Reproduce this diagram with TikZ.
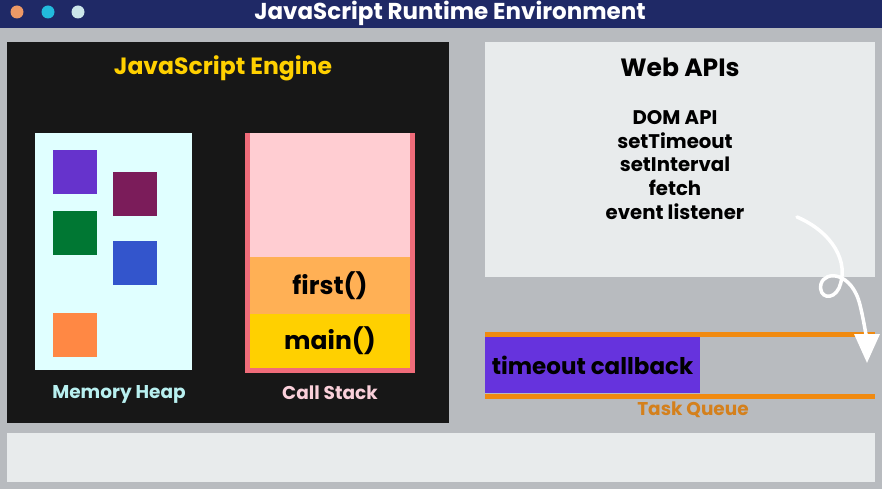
\documentclass[tikz,border=0pt]{standalone}
\usepackage{fontspec}
\setmainfont{Poppins}
\usetikzlibrary{arrows.meta,positioning}
\definecolor{bgGray}{HTML}{B8BBBF}
\definecolor{barNavy}{HTML}{1F2966}
\definecolor{engineBlack}{HTML}{171717}
\definecolor{engineYellow}{HTML}{FFD000}
\definecolor{heapCyan}{HTML}{E0FFFF}
\definecolor{heapText}{HTML}{B8F0F0}
\definecolor{sqPurple}{HTML}{6633CC}
\definecolor{sqMaroon}{HTML}{7B1C5A}
\definecolor{sqGreen}{HTML}{007733}
\definecolor{sqBlue}{HTML}{3355CC}
\definecolor{sqOrange}{HTML}{FF8844}
\definecolor{stackRed}{HTML}{F06C7A}
\definecolor{stackPink}{HTML}{FFCDD2}
\definecolor{stackText}{HTML}{FAD0DA}
\definecolor{firstOrange}{HTML}{FFB055}
\definecolor{panelLight}{HTML}{E8EBEC}
\definecolor{queueOrange}{HTML}{F08A10}
\definecolor{queueText}{HTML}{D4801C}
\definecolor{callbackPurple}{HTML}{6633DD}
\definecolor{dotOrange}{HTML}{EE9966}
\definecolor{dotCyan}{HTML}{22BBDD}
\definecolor{dotLight}{HTML}{CCE6EA}

\begin{document}
\begin{tikzpicture}[x=1pt, y=-1pt,
  every node/.style = {font=\bfseries},
  panel/.style  = {rectangle, anchor=north west, inner sep=0pt,
                   outer sep=0pt},
  square/.style = {panel, minimum width=44pt, minimum height=44pt},
  dot/.style    = {circle, inner sep=0pt, minimum size=13pt},
  big/.style    = {font=\bfseries\fontsize{23}{27}\selectfont},
  huge/.style   = {font=\bfseries\fontsize{25}{29}\selectfont},
  small/.style  = {font=\bfseries\fontsize{18.5}{22}\selectfont},
  queueline/.style = {queueOrange, line width=5pt},
]
  \useasboundingbox (0,0) rectangle (882,489);
  \fill[bgGray] (0,0) rectangle (882,489);

  % title bar
  \node[panel, fill=barNavy, minimum width=882, minimum height=28] (bar) at (0,0) {};
  \node[dot, fill=dotOrange] (dotA) at (17,12) {};
  \node[dot, fill=dotCyan] (dotB) at (48,12) {};
  \node[dot, fill=dotLight] (dotC) at (78,12) {};
  \node[big, white] (title) at (450,13) {JavaScript Runtime Environment};

  % engine
  \node[panel, fill=engineBlack, minimum width=442, minimum height=381] (engine) at (7,42) {};
  \node[big, engineYellow, font=\bfseries\fontsize{23.5}{27}\selectfont] (engineTitle) at (223,68) {JavaScript Engine};

  \node[panel, fill=heapCyan, minimum width=157, minimum height=237] (heap) at (35,133) {};
  \node[square, fill=sqPurple] (sqA) at (53,150) {};
  \node[square, fill=sqMaroon] (sqB) at (113,172) {};
  \node[square, fill=sqGreen] (sqC) at (53,211) {};
  \node[square, fill=sqBlue] (sqD) at (113,241) {};
  \node[square, fill=sqOrange] (sqE) at (53,313) {};
  \node[small, heapText] (heapLabel) at (119,394) {Memory Heap};

  \node[panel, fill=stackRed, minimum width=170, minimum height=240] (stack) at (245,133) {};
  \node[panel, fill=stackPink, minimum width=160, minimum height=124] (stackTop) at (250,133) {};
  \node[panel, fill=firstOrange, minimum width=160, minimum height=57] (first) at (250,257) {};
  \node[huge] (firstText) at (first.center) {first()};
  \node[panel, fill=engineYellow, minimum width=160, minimum height=54] (main) at (250,314) {};
  \node[huge] (mainText) at (main.center) {main()};
  \node[small, stackText] (stackLabel) at (330,393) {Call Stack};

  % web apis
  \node[panel, fill=panelLight, minimum width=390, minimum height=235] (web) at (485,42) {};
  \node[huge] (webTitle) at (680,67) {Web APIs};
  \node[align=center, font=\bfseries\fontsize{19.7}{23.7}\selectfont] (apiList) at (675,165)
    {DOM API\\setTimeout\\setInterval\\fetch\\event listener};

  % task queue
  \draw[queueline] (485,334.5) -- (875,334.5);
  \draw[queueline] (485,396) -- (875,396);
  \node[panel, fill=callbackPurple, minimum width=215, minimum height=56] (callback) at (485,337) {};
  \node[big] (callbackText) at (callback.center) {timeout callback};
  \node[small, queueText] (queueLabel) at (693,410) {Task Queue};

  % bottom panel
  \node[panel, fill=panelLight, minimum width=868, minimum height=49] (loop) at (7,433) {};

  % curly arrow from the apis to the queue
  \coordinate (apiStart) at (797,217);
  \coordinate (queueEnd) at (867,363);
  \draw[white, line width=3.5pt, line cap=round, -{Triangle[width=25pt,length=29pt]}]
    (apiStart) .. controls (832,232) and (850,262) .. (839,288)
    .. controls (833,301) and (818,298) .. (821,284)
    .. controls (825,270) and (852,272) .. (860,305)
    .. controls (865,325) and (867,345) .. (queueEnd);
\end{tikzpicture}
\end{document}
